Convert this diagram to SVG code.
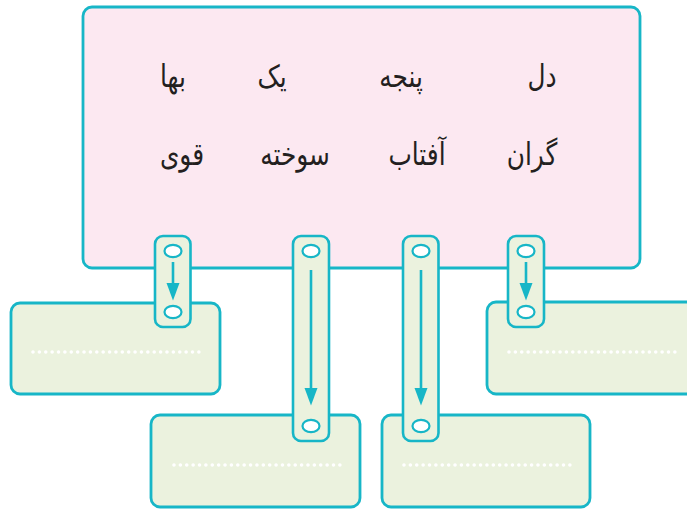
<svg xmlns="http://www.w3.org/2000/svg" width="687" height="509" viewBox="0 0 687 509">
<style>
.main{fill:#fce8f1;stroke:#17b6c7;stroke-width:2.8}
.box{fill:#ebf2de;stroke:#17b6c7;stroke-width:2.8}
.tab{fill:#ebf2de;stroke:#17b6c7;stroke-width:2.6}
.hole{fill:#ffffff;stroke:#17b6c7;stroke-width:2.2}
.shaft{stroke:#17b6c7;stroke-width:2.6;fill:none}
.head{fill:#17b6c7}
.dots{stroke:#ffffff;stroke-width:3.6;stroke-linecap:round;stroke-dasharray:0 6.38;fill:none}
.w{font-family:"DejaVu Sans",sans-serif;font-size:31px;fill:#231f20;text-anchor:middle}
</style>
<g id="main-box">
<rect class="main" x="83" y="7" width="557" height="261" rx="9"/>
<text class="w" transform="translate(542 87) scale(0.8 1)">دل</text>
<text class="w" transform="translate(401 87) scale(0.8 1)">پنجه</text>
<text class="w" transform="translate(272 87) scale(0.8 1)">یک</text>
<text class="w" transform="translate(173 87) scale(0.8 1)">بها</text>
<text class="w" transform="translate(532 165) scale(0.8 1)">گران</text>
<text class="w" transform="translate(417 165) scale(0.8 1)">آفتاب</text>
<text class="w" transform="translate(295 165) scale(0.8 1)">سوخته</text>
<text class="w" transform="translate(182 165) scale(0.8 1)">قوی</text>
</g>
<g id="answer-1">
<rect class="box" x="11" y="303" width="209" height="91" rx="9"/>
<line class="dots" x1="33" y1="352" x2="200" y2="352"/>
</g>
<g id="answer-2">
<rect class="box" x="151" y="415" width="209" height="92" rx="9"/>
<line class="dots" x1="174" y1="465" x2="340" y2="465"/>
</g>
<g id="answer-3">
<rect class="box" x="382" y="415" width="208" height="92" rx="9"/>
<line class="dots" x1="404" y1="465" x2="570" y2="465"/>
</g>
<g id="answer-4">
<rect class="box" x="487" y="302" width="220" height="92" rx="9"/>
<line class="dots" x1="509" y1="352" x2="675" y2="352"/>
</g>
<g id="connectors">
<g id="link-1">
<rect class="tab" x="155" y="236" width="35.5" height="91" rx="8"/>
<ellipse class="hole" cx="173" cy="251" rx="8.5" ry="6.2"/>
<ellipse class="hole" cx="173" cy="312" rx="8.5" ry="6.2"/>
<path class="shaft" d="M173,262 V284"/>
<path class="head" d="M166.5,283 L179.5,283 L173,300.5 Z"/>
</g>
<g id="link-2">
<rect class="tab" x="293" y="236" width="36" height="205" rx="8"/>
<ellipse class="hole" cx="311" cy="251" rx="8.5" ry="6.2"/>
<ellipse class="hole" cx="311" cy="426" rx="8.5" ry="6.2"/>
<path class="shaft" d="M311,270 V389"/>
<path class="head" d="M304.5,388 L317.5,388 L311,405.5 Z"/>
</g>
<g id="link-3">
<rect class="tab" x="403" y="236" width="35.5" height="205" rx="8"/>
<ellipse class="hole" cx="421" cy="251" rx="8.5" ry="6.2"/>
<ellipse class="hole" cx="421" cy="426" rx="8.5" ry="6.2"/>
<path class="shaft" d="M421,270 V389"/>
<path class="head" d="M414.5,388 L427.5,388 L421,405.5 Z"/>
</g>
<g id="link-4">
<rect class="tab" x="508" y="236" width="36" height="91" rx="8"/>
<ellipse class="hole" cx="526" cy="251" rx="8.5" ry="6.2"/>
<ellipse class="hole" cx="526" cy="312" rx="8.5" ry="6.2"/>
<path class="shaft" d="M526,262 V284"/>
<path class="head" d="M519.5,283 L532.5,283 L526,300.5 Z"/>
</g>
</g>
</svg>
